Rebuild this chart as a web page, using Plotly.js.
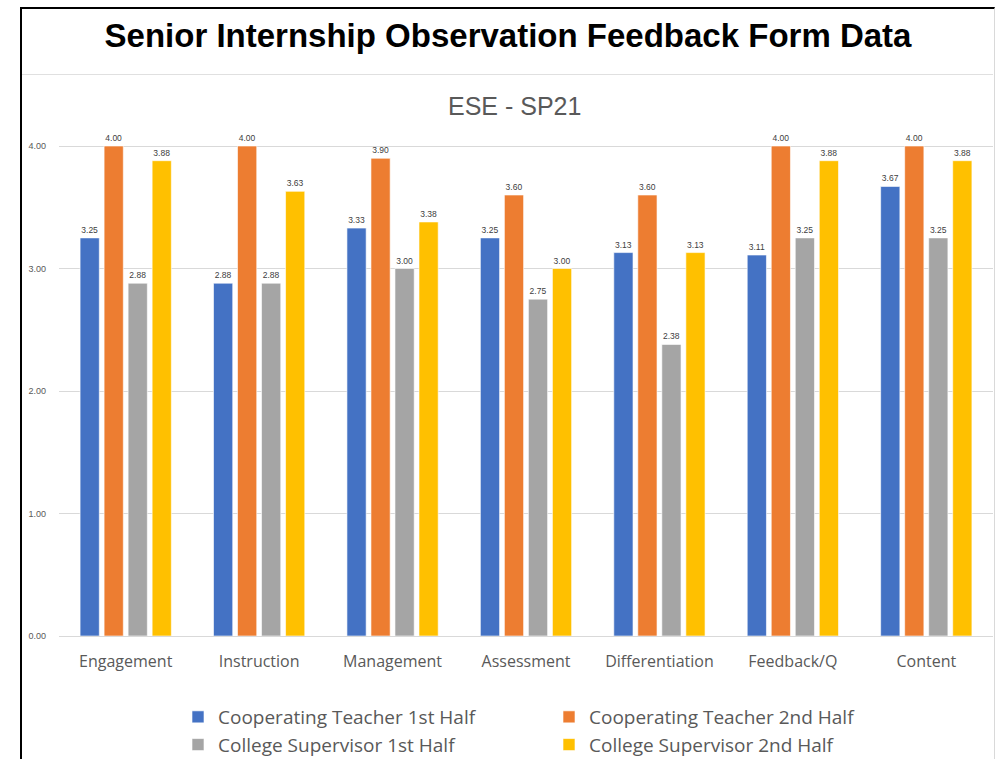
<!DOCTYPE html>
<html>
<head>
<meta charset="utf-8">
<script src="https://cdn.plot.ly/plotly-3.0.1.min.js"></script>
<style>
  html, body { margin: 0; padding: 0; background: #fff; }
  #wrap { position: relative; width: 995px; height: 759px; overflow: hidden; }
  #chart { position: absolute; left: 0; top: 0; width: 995px; height: 759px; }
  #frame { position: absolute; left: 20px; top: 7px; width: 972px; height: 760px;
           border-left: 2px solid #000; border-top: 2px solid #000; border-right: 1px solid #d9d9d9;
           pointer-events: none; }
  #sep { position: absolute; left: 22px; top: 74px; width: 971px; height: 1px; background: #e0e0e0; pointer-events: none; }
</style>
</head>
<body>
<div id="wrap">
  <div id="chart"></div>
  <div id="frame"></div>
  <div id="sep"></div>
</div>
<script>
const categories = ["Engagement", "Instruction", "Management", "Assessment", "Differentiation", "Feedback/Q", "Content"];
const seriesNames = ["Cooperating Teacher 1st Half", "Cooperating Teacher 2nd Half", "College Supervisor 1st Half", "College Supervisor 2nd Half"];
const coopTeacher1st = [3.25, 2.88, 3.33, 3.25, 3.13, 3.11, 3.67];
const coopTeacher2nd = [4.00, 4.00, 3.90, 3.60, 3.60, 4.00, 4.00];
const collegeSup1st  = [2.88, 2.88, 3.00, 2.75, 2.38, 3.25, 3.25];
const collegeSup2nd  = [3.88, 3.63, 3.38, 3.00, 3.13, 3.88, 3.88];
const colors = ["#4472C4", "#ED7D31", "#A5A5A5", "#FFC000"];
const yTickVals = [0, 1, 2, 3, 4];

const allSeries = [coopTeacher1st, coopTeacher2nd, collegeSup1st, collegeSup2nd];
const traces = allSeries.map((vals, i) => ({
  type: "bar",
  name: seriesNames[i],
  x: categories,
  y: vals,
  marker: { color: colors[i], line: { color: "rgba(255,255,255,0.6)", width: 1 } },
  text: vals.map(v => v.toFixed(2)),
  textposition: "outside",
  textfont: { family: "Liberation Sans, Arial, sans-serif", size: 8.5, color: "#404040" },
  cliponaxis: false,
  hoverinfo: "x+y+name"
}));

const W = 995, H = 759, L = 59, R = 2, T = 97, B = 123;
const pw = W - L - R;
function px2paperX(px) { return (px - L) / pw; }

const layout = {
  width: W, height: H,
  margin: { l: L, r: R, t: T, b: B, pad: 0, autoexpand: false },
  paper_bgcolor: "#ffffff",
  plot_bgcolor: "#ffffff",
  font: { family: "Liberation Sans, Arial, sans-serif", color: "#595959" },
  barmode: "group",
  bargap: 0.28,
  bargroupgap: 0.2,
  showlegend: true,
  title: {
    text: "<b>Senior Internship Observation Feedback Form Data</b>",
    font: { family: "Liberation Sans, Arial, sans-serif", size: 33, color: "#000000" },
    x: 508 / W, xanchor: "center", xref: "container",
    y: 1 - 35 / H, yanchor: "middle", yref: "container"
  },
  annotations: [{
    text: "ESE - SP21",
    xref: "paper", yref: "paper",
    x: px2paperX(514), y: (H - B - 106) / (H - T - B),
    xanchor: "center", yanchor: "middle",
    showarrow: false,
    font: { family: "Liberation Sans, Arial, sans-serif", size: 25, color: "#595959" }
  }],
  xaxis: {
    type: "category",
    showgrid: false,
    showline: false,
    zeroline: false,
    ticks: "",
    tickfont: { family: "Open Sans, Liberation Sans, sans-serif", size: 16, color: "#595959" },
    ticklabelstandoff: 14,
    fixedrange: true
  },
  yaxis: {
    range: [0, 4.4],
    tickvals: yTickVals,
    tickformat: ".2f",
    showgrid: true,
    gridcolor: "#d9d9d9",
    gridwidth: 1,
    zeroline: true,
    zerolinecolor: "#d9d9d9",
    zerolinewidth: 1,
    showline: false,
    ticks: "",
    tickfont: { family: "Liberation Sans, Arial, sans-serif", size: 9, color: "#595959" },
    ticklabelstandoff: 12,
    fixedrange: true
  },
  legend: {
    orientation: "h",
    xref: "container", yref: "container",
    x: 178 / W, xanchor: "left",
    y: 1 - 698 / H, yanchor: "top",
    entrywidth: 326, entrywidthmode: "pixels",
    traceorder: "normal",
    font: { family: "Open Sans, Liberation Sans, sans-serif", size: 19, color: "#595959" },
    itemwidth: 30,
    tracegroupgap: 0,
    bgcolor: "rgba(0,0,0,0)"
  }
};

Plotly.newPlot("chart", traces, layout, { displayModeBar: false, staticPlot: true });
</script>
</body>
</html>
